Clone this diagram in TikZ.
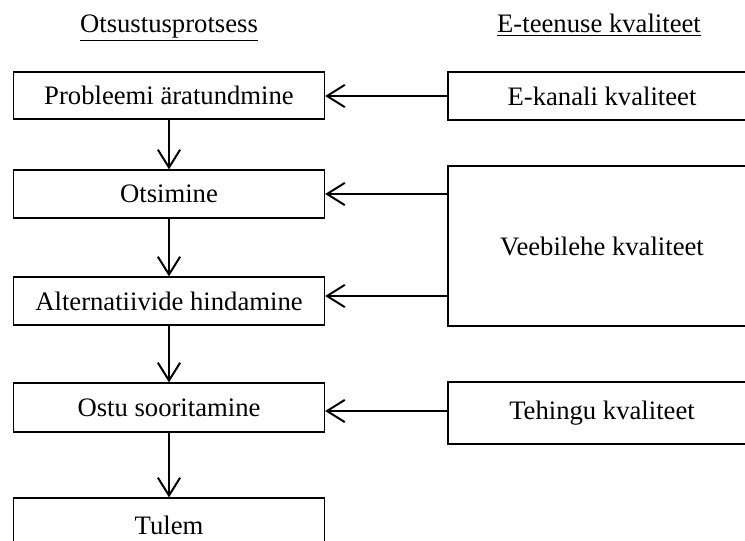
\documentclass[tikz,border=0pt]{standalone}
\usepackage{fontspec}
\setmainfont{Liberation Serif}
\usetikzlibrary{arrows.meta}
\begin{document}
\begin{tikzpicture}[x=0.45pt,y=-0.45pt,
 box/.style={draw, line width=0.55pt, inner sep=0pt, font=\fontsize{12}{14}\selectfont},
 lbox/.style={box, minimum width=139.95pt},
 rbox/.style={box, minimum width=138.6pt},
 head/.style={inner sep=0pt, anchor=base, font=\fontsize{12}{14}\selectfont},
 arr/.style={line width=0.9pt, -{Straight Barb[length=8pt,width=10pt,line width=0.9pt]}}]
\useasboundingbox (0,0) rectangle (745,541);
\clip (0,0) rectangle (745,541);
% headers
\node[head] (h1) at (169,32) {\underline{Otsustusprotsess}};
\node[head] (h2) at (599,32) {\underline{E-teenuse kvaliteet}};
% left column
\node[lbox, minimum height=21.15pt] (b1) at (169,95.5) {Probleemi äratundmine};
\node[lbox, minimum height=21.6pt] (b2) at (169,194) {Otsimine};
\node[lbox, minimum height=21.6pt] (b3) at (169,301) {Alternatiivide hindamine};
\node[lbox, minimum height=22.05pt] (b4) at (169,407.5) {Ostu sooritamine};
\node[lbox, minimum height=24.3pt] (b5) at (169,525) {Tulem};
% right column
\node[rbox, minimum height=21.6pt] (ek) at (602,96) {E-kanali kvaliteet};
\node[rbox, minimum height=72pt] (veb) at (602,246) {Veebilehe kvaliteet};
\node[rbox, minimum height=27.9pt] (teh) at (602,413) {Tehingu kvaliteet};
% vertical arrows
\draw[arr] (b1) -- (b2);
\draw[arr] (b2) -- (b3);
\draw[arr] (b3) -- (b4);
\draw[arr] (b4) -- (b5);
% horizontal arrows
\coordinate (a1) at (0,96);
\coordinate (a2) at (0,194);
\coordinate (a3) at (0,296);
\coordinate (a4) at (0,411);
\draw[arr] (ek.west |- a1) -- (b1.east |- a1);
\draw[arr] (veb.west |- a2) -- (b2.east |- a2);
\draw[arr] (veb.west |- a3) -- (b3.east |- a3);
\draw[arr] (teh.west |- a4) -- (b4.east |- a4);
\end{tikzpicture}
\end{document}
